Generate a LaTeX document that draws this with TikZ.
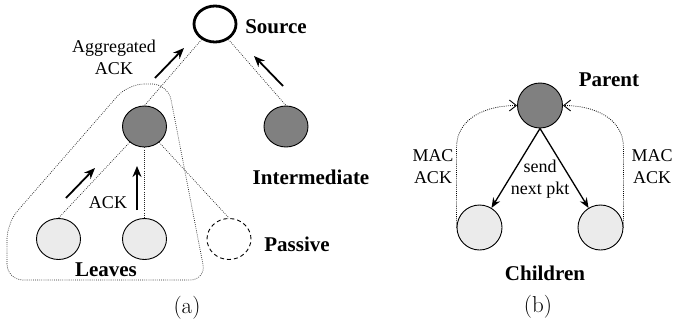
\documentclass[tikz,border=0pt]{standalone}
\usepackage{fontspec}
\newfontfamily\labelfont{Liberation Serif}
\usetikzlibrary{arrows.meta,shapes.geometric}
\definecolor{darkfill}{HTML}{808080}
\definecolor{lightfill}{HTML}{EBEBEB}
\begin{document}
\begin{tikzpicture}[x=1pt,y=-1pt,
  every node/.style={inner sep=0pt},
  vertex/.style={ellipse, draw, line width=0.9pt, minimum width=44pt, minimum height=41pt},
  rootvertex/.style={vertex, line width=2.8pt, minimum width=42pt, minimum height=36pt},
  darkvertex/.style={vertex, fill=darkfill},
  leafvertex/.style={vertex, fill=lightfill},
  passivevertex/.style={vertex, dash pattern=on 4pt off 3pt},
  bigvertex/.style={minimum width=45pt, minimum height=45pt},
  tag/.style={font=\labelfont\bfseries\fontsize{21}{24}\selectfont},
  note/.style={font=\labelfont\fontsize{18}{22}\selectfont, align=center},
  caption/.style={font=\fontsize{23}{26}\selectfont},
  link/.style={line width=0.7pt, black!85, dash pattern=on 0.8pt off 1.3pt},
  group/.style={line width=0.7pt, black!85, dash pattern=on 0.8pt off 1.3pt, rounded corners=16pt},
  ackarrow/.style={line width=1.8pt, -{Stealth[length=11pt,width=9pt]}},
  sendarrow/.style={line width=1.3pt, -{Stealth[length=10pt,width=8pt]}},
  macarrow/.style={line width=0.8pt, dash pattern=on 0.8pt off 1.3pt,
    -{Straight Barb[length=7pt,width=11pt,line width=0.9pt]}}
]
\useasboundingbox (0,0) rectangle (674,324);

% ---------- (a) aggregated acknowledgements ----------
\node[rootvertex]    (src)     at (215,24)    {};
\node[darkvertex]    (mid)     at (144.5,126.5) {};
\node[darkvertex]    (inter)   at (286,126.5) {};
\node[leafvertex]    (leafA)   at (58.5,239)  {};
\node[leafvertex]    (leafB)   at (144.5,239) {};
\node[passivevertex] (passive) at (229,239)   {};

\draw[link] (src) -- (mid.north);
\draw[link] (src) -- (inter.north);
\draw[link] (mid) -- (leafA.north);
\draw[link] (mid) -- (leafB);
\draw[link] (mid) -- (passive.north);

% group enclosing the leaves
\draw[group] (7,280) -- (7,223) -- (128,84) -- (168,84) -- (206,280) -- cycle;

\node[tag] (srclabel)     at (276,27)  {Source};
\node[tag] (interlabel)   at (311,177) {Intermediate};
\node[tag] (passivelabel) at (297,244) {Passive};
\node[tag] (leaveslabel)  at (106,270) {Leaves};
\node[note] (agglabel)    at (114,57)  {Aggregated\\ACK};
\node[note] (acklabel)    at (108,203) {ACK};

\coordinate (a1s) at (155,78);  \coordinate (a1e) at (184,48);
\coordinate (a2s) at (283,86);  \coordinate (a2e) at (254,56);
\coordinate (a3s) at (66,198);  \coordinate (a3e) at (95,168);
\coordinate (a4s) at (137,210); \coordinate (a4e) at (137,166);
\draw[ackarrow] (a1s) -- (a1e);
\draw[ackarrow] (a2s) -- (a2e);
\draw[ackarrow] (a3s) -- (a3e);
\draw[ackarrow] (a4s) -- (a4e);

\node[caption] (capa) at (187,308) {(a)};

% ---------- (b) MAC-level acknowledgements ----------
\node[darkvertex, bigvertex] (parent) at (540,105.5) {};
\node[leafvertex, bigvertex] (childL) at (479.5,227.5) {};
\node[leafvertex, bigvertex] (childR) at (600.5,227.5) {};

\draw[sendarrow] (parent.south) -- (childL);
\draw[sendarrow] (parent.south) -- (childR);

\draw[macarrow] (childL.west) -- ++(0,-80) .. controls +(0,-30) and +(-30,0) .. (parent.west);
\draw[macarrow] (childR.east) -- ++(0,-80) .. controls +(0,-30) and +(30,0) .. (parent.east);

\node[tag]  (parentlabel)   at (609,80)  {Parent};
\node[tag]  (childrenlabel) at (545,273) {Children};
\node[note] (macL)  at (433,167) {MAC\\ACK};
\node[note] (macR)  at (652,167) {MAC\\ACK};
\node[note] (sendlabel) at (540,179) {send\\next pkt};

\node[caption] (capb) at (538,307) {(b)};
\end{tikzpicture}
\end{document}
